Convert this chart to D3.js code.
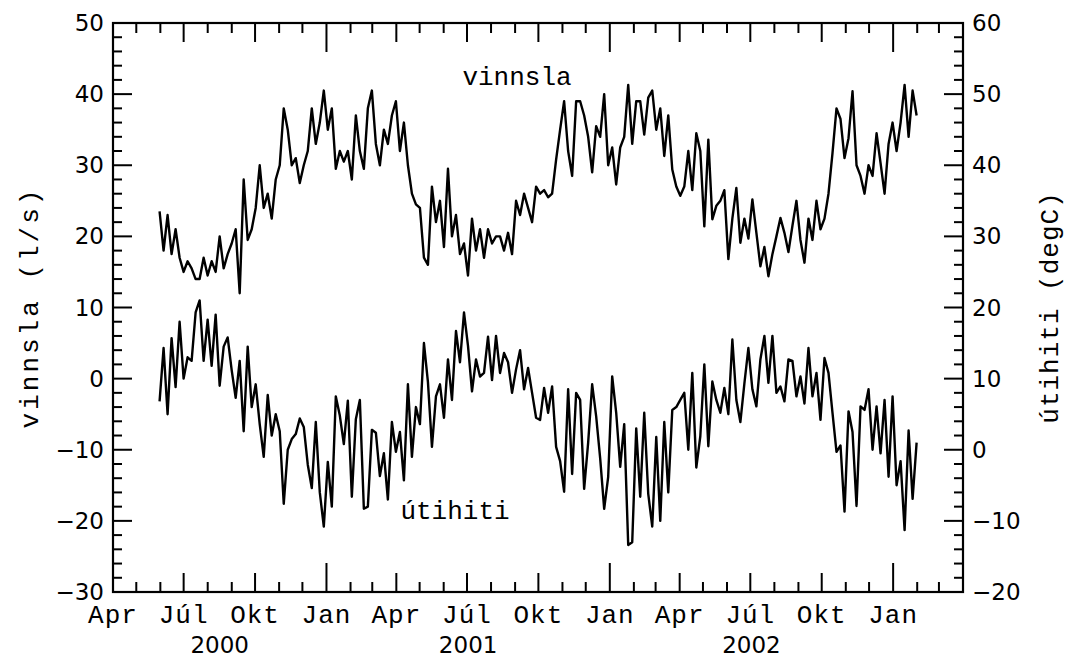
<!DOCTYPE html>
<html>
<head>
<meta charset="utf-8">
<script src="https://cdn.jsdelivr.net/npm/d3@7"></script>
<style>
  body { margin: 0; background: #fff; }
  text { fill: #000; }
</style>
</head>
<body>
<div class="graph"></div>
<script>
// samples every ~5.16 days starting 31 May 2000
const startDate = new Date(2000, 4, 31);
const stepDays = 5.16;

const vinnsla = [
  23.5, 18, 23, 17.5, 21,   17, 15, 16.5, 15.5, 14,   14, 17, 14.5, 16.5, 15,
  20, 15.5, 17.5, 19, 21,   12, 28, 19.5, 21, 24,     30, 24, 26, 22.5, 28,
  30, 38, 35, 30, 31,       27.5, 30, 32, 38, 33,     36, 40.5, 35, 38, 29.5,
  32, 30.5, 32, 28, 37,     32, 29.5, 38, 40.5, 33,   30, 35, 33, 37, 39,
  32, 36, 30, 26, 24.5,     24, 17, 16, 27, 22,       25, 18.5, 29.5, 20, 23,
  17.5, 19, 14.5, 22.5, 18, 21, 17, 21, 19, 20,       20, 18, 20.5, 17.5, 25,
  23, 26, 24, 22, 27,       26, 26.5, 25.5, 26, 30.8, 35, 39, 32, 28.5, 39,
  39, 37, 34, 29, 35.5,     34, 40, 30, 32.5, 27.3,   32.5, 34, 41.3, 33, 39,
  39, 34.3, 39.5, 40.5, 35, 38, 31.3, 37, 29.4, 27,   25.7, 27, 32, 26.5, 34.5,
  32, 21.4, 33.6, 22.4, 24.3, 25, 26.5, 16.8, 22.5, 26.8, 19.1, 22.5, 19.7, 25.2, 20.5,
  15.8, 18.5, 14.4, 17.5, 20, 22.6, 20.5, 17.8, 21.5, 25, 19.5, 16.3, 22.5, 19.5, 25,
  21, 22.5, 26, 31.7, 38,   36.5, 31, 33.8, 40.4, 30, 28.5, 26, 30, 28.5, 34.5,
  30.3, 26, 33, 36, 32,     36, 41.3, 34, 40.5, 37
];

const utihiti = [
  6.8, 14.3, 5, 15.7, 8.8,  18, 10, 13, 12.5, 19.3,   21, 12.5, 18.3, 11.8, 19,
  9, 14.5, 15.8, 11.2, 7.3, 12.5, 2.6, 14.5, 6, 9.2,  3.6, -1, 7.7, 2, 5,
  2.6, -7.6, 0, 1.5, 2.2,   4.4, 3.2, -2.1, -5.4, 3.9, -6, -10.8, -1.7, -8, 7.5,
  4.8, 0.8, 6.9, -6.6, 4.3, 7, -8.3, -8, 2.8, 2.4,    -3.7, -0.5, -7, 3.9, -0.3,
  2.5, -4.3, 9.2, -1, 6,    3.6, 15, 9.5, 0.4, 7.5,   9.2, 4.5, 12.7, 7, 16.7,
  12.3, 19.3, 14.6, 8.2, 12.7, 10.3, 10.8, 15.9, 9.8, 16, 10.8, 13.6, 12.3, 8, 11.3,
  14, 8.5, 11.5, 8, 4.5,    4.2, 8.7, 5.2, 8.9, 0.4,  -1.6, -5.9, 8.5, -3.4, 8,
  7, -5.5, 1, 9.2, 4.7,     -1.2, -8.3, -3.8, 10.3, 5.2, -2.4, 3.6, -13.4, -13, 3,
  -6.6, 5.2, -6.2, -10.8, 1.8, -10, 3.9, -6, 5.6, 6,  7, 8, 0, 10.8, -2.5,
  1.9, 12, 0.5, 9.6, 7,     5.2, 8.7, 5, 15.5, 7,     3.9, 9.3, 14.3, 8.5, 6.1,
  12.7, 16, 9.4, 16, 8,     8.9, 6.8, 12.7, 12.5, 7.5, 10.3, 6.5, 14.3, 7.5, 10.8,
  4.2, 12.9, 10.8, 5.2, -0.3, 0.6, -8.7, 5.4, 2.5, -7.9, 6.1, 5.6, 8.5, 0, 6.1,
  -0.5, 7, -3.8, 7.5, -5,   -1.6, -11.3, 2.7, -6.9, 1
];

const monthNames = ["Jan", "Apr", "Júl", "Okt"];
const years = [2000, 2001, 2002];
const leftTicks = [-30, -20, -10, 0, 10, 20, 30, 40, 50];
const rightTicks = [-20, -10, 0, 10, 20, 30, 40, 50, 60];

const W = 1074, H = 659;
const margin = { left: 113, right: 111, top: 23, bottom: 67 };

const svg = d3.select(".graph").append("svg")
  .attr("width", W).attr("height", H);

const x0 = new Date(2000, 3, 1), x1 = new Date(2003, 3, 1);
const xScale = d3.scaleTime().domain([x0, x1]).range([margin.left, W - margin.right]);
const yLeft = d3.scaleLinear().domain([-30, 50]).range([H - margin.bottom, margin.top]);
const yRight = d3.scaleLinear().domain([-20, 60]).range([H - margin.bottom, margin.top]);

const yTop = margin.top, yBot = H - margin.bottom;
const xl = margin.left, xr = W - margin.right;

const tickG = svg.append("g").attr("stroke", "#000").attr("stroke-width", 2);

// month ticks, top and bottom, inward
d3.timeMonth.range(x0, x1).forEach(d => {
  if (+d === +x0) return;
  const m = d.getMonth();
  const len = m === 0 ? 29 : (m % 3 === 0 ? 19 : 10);
  const x = xScale(d);
  tickG.append("line").attr("x1", x).attr("x2", x).attr("y1", yBot).attr("y2", yBot - len);
  tickG.append("line").attr("x1", x).attr("x2", x).attr("y1", yTop).attr("y2", yTop + len);
});

// y ticks left/right
d3.range(-30, 51, 2).forEach(v => {
  const len = v % 10 === 0 ? 19 : 9;
  const y = yLeft(v);
  tickG.append("line").attr("x1", xl).attr("x2", xl + len).attr("y1", y).attr("y2", y);
  tickG.append("line").attr("x1", xr).attr("x2", xr - len).attr("y1", y).attr("y2", y);
});

// frame
svg.append("rect").attr("x", xl).attr("y", yTop).attr("width", xr - xl).attr("height", yBot - yTop)
  .attr("fill", "none").attr("stroke", "#000").attr("stroke-width", 2.2);

const numFont = "'DejaVu Sans', sans-serif";
const monoFont = "'Liberation Mono', 'DejaVu Sans Mono', monospace";

const fmt = v => v < 0 ? "\u2212" + Math.abs(v) : String(v);

svg.append("g").selectAll("text").data(leftTicks).join("text")
  .attr("x", xl - 9).attr("y", d => yLeft(d) + 8)
  .attr("text-anchor", "end").attr("font-family", numFont).attr("font-size", 23)
  .text(fmt);

svg.append("g").selectAll("text").data(rightTicks).join("text")
  .attr("x", xr + 9).attr("y", d => yRight(d) + 8)
  .attr("text-anchor", "start").attr("font-family", numFont).attr("font-size", 23)
  .text(fmt);

// month labels at quarter ticks
const quarters = d3.timeMonth.every(3).range(x0, new Date(2003, 0, 2));
svg.append("g").selectAll("text").data(quarters).join("text")
  .attr("x", d => xScale(d)).attr("y", yBot + 31)
  .attr("text-anchor", "middle").attr("font-family", monoFont).attr("font-size", 26)
  .attr("letter-spacing", 1)
  .text(d => monthNames[d.getMonth() / 3]);

// year labels centred over the visible part of each year
svg.append("g").selectAll("text").data(years).join("text")
  .attr("x", d => {
    const a = Math.max(+new Date(d, 0, 1), +x0);
    const b = new Date(d + 1, 0, 1);
    return (xScale(new Date(a)) + xScale(b)) / 2;
  })
  .attr("y", yBot + 61)
  .attr("text-anchor", "middle").attr("font-family", numFont).attr("font-size", 23)
  .text(d => d);

// axis titles
svg.append("text").attr("transform", `translate(38,${(yTop + yBot) / 2}) rotate(-90)`)
  .attr("text-anchor", "middle").attr("font-family", monoFont).attr("font-size", 26)
  .attr("letter-spacing", 3)
  .text("vinnsla (l/s)");
svg.append("text").attr("transform", `translate(1058,${(yTop + yBot) / 2}) rotate(-90)`)
  .attr("text-anchor", "middle").attr("font-family", monoFont).attr("font-size", 26)
  .attr("letter-spacing", 1)
  .text("útihiti (degC)");

const dateAt = i => new Date(+startDate + i * stepDays * 864e5);

svg.append("path").datum(vinnsla)
  .attr("fill", "none").attr("stroke", "#000").attr("stroke-width", 2.4)
  .attr("stroke-linejoin", "round")
  .attr("d", d3.line().x((d, i) => xScale(dateAt(i))).y(d => yLeft(d)));

svg.append("path").datum(utihiti)
  .attr("fill", "none").attr("stroke", "#000").attr("stroke-width", 2.4)
  .attr("stroke-linejoin", "round")
  .attr("d", d3.line().x((d, i) => xScale(dateAt(i))).y(d => yRight(d)));

// series labels
svg.append("text").attr("x", 517).attr("y", 85).attr("text-anchor", "middle")
  .attr("font-family", monoFont).attr("font-size", 26).text("vinnsla");
svg.append("text").attr("x", 455).attr("y", 519).attr("text-anchor", "middle")
  .attr("font-family", monoFont).attr("font-size", 26).text("útihiti");
</script>
</body>
</html>
